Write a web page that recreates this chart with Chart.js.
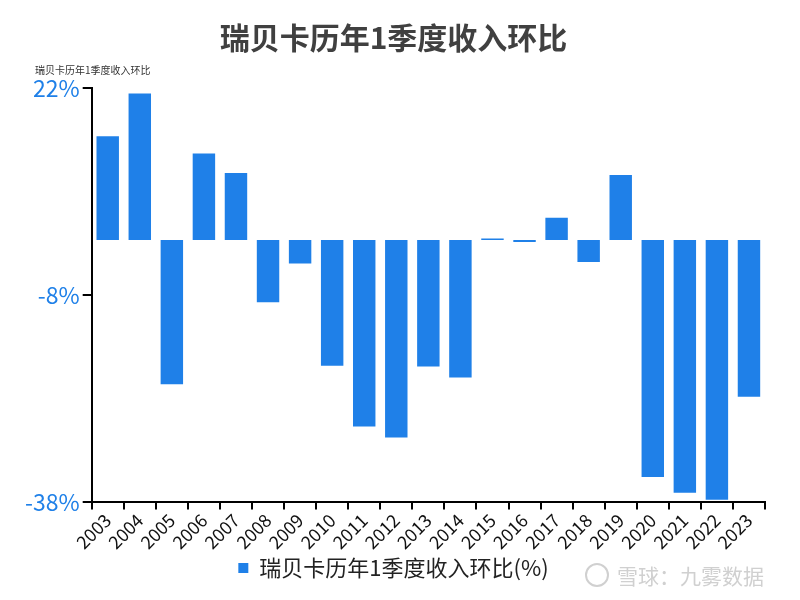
<!DOCTYPE html>
<html>
<head>
<meta charset="utf-8">
<script src="https://cdn.jsdelivr.net/npm/chart.js@4.4.0/dist/chart.umd.min.js"></script>
<style>
  body { margin: 0; background: #fff; }
  #wrap { position: relative; width: 800px; height: 600px; }
  #mark {
    position: absolute; left: 585px; top: 560px;
    font-family: "Noto Sans CJK SC", sans-serif; font-size: 21px; color: #d0d0d0;
    display: flex; align-items: center;
  }
  #mark span.logo {
    display: inline-block; width: 20px; height: 20px; border: 2px solid #d0d0d0;
    border-radius: 50%; margin-right: 8px;
  }
</style>
</head>
<body>
<div id="wrap">
  <canvas id="chart" width="800" height="600"></canvas>
  <div id="mark"><span class="logo"></span>雪球：九雾数据</div>
</div>
<script>
const years = ["2003","2004","2005","2006","2007","2008","2009","2010","2011","2012","2013",
  "2014","2015","2016","2017","2018","2019","2020","2021","2022","2023"];
const qoqChange = [15.0, 21.2, -20.9, 12.5, 9.7, -9.0, -3.4, -18.2, -27.0, -28.6, -18.3,
  -19.9, 0.2, -0.3, 3.2, -3.2, 9.4, -34.3, -36.6, -37.6, -22.7];
const yTicks = [22, -8, -38];

const FONT = '"Noto Sans CJK SC", "Noto Sans", sans-serif';
const BLUE = "#1f80e8";

const cornerLabel = {
  id: "cornerLabel",
  afterDraw(chart) {
    const ctx = chart.ctx;
    ctx.save();
    ctx.font = "10px " + FONT;
    ctx.fillStyle = "#333";
    ctx.textBaseline = "middle";
    ctx.fillText("瑞贝卡历年1季度收入环比", 35, 70);
    ctx.restore();
  }
};

new Chart(document.getElementById("chart").getContext("2d"), {
  type: "bar",
  data: {
    labels: years,
    datasets: [{
      label: "瑞贝卡历年1季度收入环比(%)",
      data: qoqChange,
      backgroundColor: BLUE,
      barPercentage: 0.7,
      categoryPercentage: 1.0
    }]
  },
  options: {
    responsive: false,
    animation: false,
    layout: { padding: { left: 22, right: 35, top: 0, bottom: 11 } },
    plugins: {
      title: {
        display: true,
        text: "瑞贝卡历年1季度收入环比",
        color: "#404040",
        font: { family: FONT, size: 30, weight: "bold" },
        padding: { top: 20, bottom: 32 }
      },
      legend: {
        position: "bottom",
        labels: {
          color: "#222",
          font: { family: FONT, size: 22 },
          boxWidth: 10,
          boxHeight: 10,
          padding: 4
        }
      },
      tooltip: { enabled: false }
    },
    scales: {
      x: {
        grid: { display: true, drawOnChartArea: false, drawTicks: true, offset: true,
          color: "#000", lineWidth: 2, tickLength: 7 },
        border: { display: true, color: "#000", width: 2 },
        ticks: {
          color: "#111",
          font: { family: FONT, size: 18 },
          maxRotation: 45, minRotation: 45, autoSkip: false, padding: 0
        }
      },
      y: {
        min: -38,
        max: 22,
        afterBuildTicks(axis) { axis.ticks = yTicks.map(v => ({ value: v })); },
        grid: { display: true, drawOnChartArea: false, drawTicks: true,
          color: "#000", lineWidth: 2, tickLength: 9 },
        border: { display: true, color: "#000", width: 2 },
        ticks: {
          color: BLUE,
          font: { family: FONT, size: 23 },
          padding: 3,
          callback: v => v + "%"
        }
      }
    }
  },
  plugins: [cornerLabel]
});
</script>
</body>
</html>
